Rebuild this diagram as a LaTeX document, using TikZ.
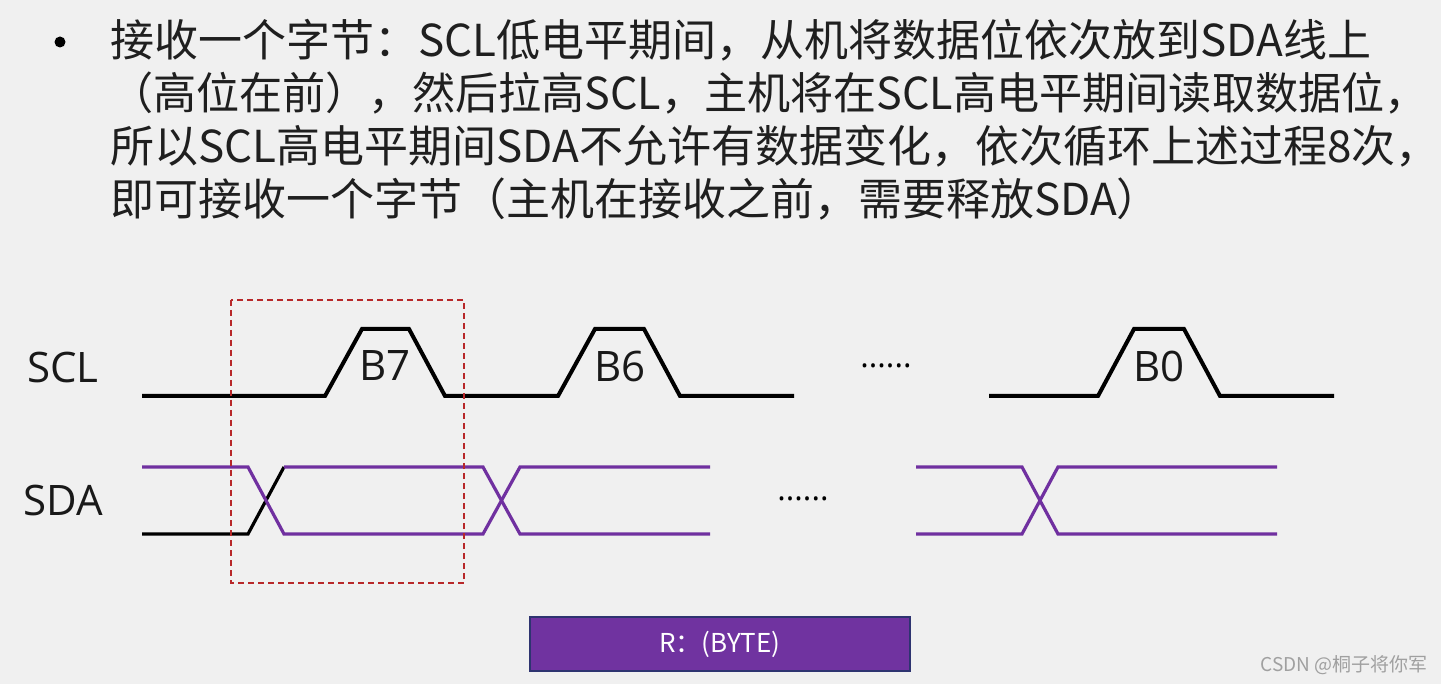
\documentclass[tikz,border=0pt]{standalone}
\usepackage{fontspec}
\usepackage{graphicx}
\setmainfont{Open Sans}
\newfontfamily\cjk{Noto Sans CJK SC}
\definecolor{bgc}{HTML}{F0F0F0}
\definecolor{sdap}{HTML}{7030A0}
\definecolor{boxp}{HTML}{7033A0}
\definecolor{boxb}{HTML}{2E3470}
\definecolor{redd}{HTML}{B8282A}
\definecolor{wmark}{HTML}{A0A0A0}
\begin{document}
\begin{tikzpicture}[x=1pt,y=-1pt,
  sclw/.style={line width=4pt, black, line join=miter},
  sdaw/.style={line width=3.2pt, sdap, line join=miter},
  sdab/.style={line width=3.2pt, black, line join=miter},
  txtline/.style={anchor=base west, inner sep=0pt, font=\cjk\fontsize{44}{53}\selectfont, text=black!88},
  siglab/.style={inner sep=0pt, font=\fontsize{42}{50}\selectfont, text=black!90},
  bitlab/.style={inner sep=0pt, font=\fontsize{42}{50}\selectfont, text=black!90},
  dotsl/.style={inner sep=0pt, font=\fontsize{32}{40}\selectfont},
  selbox/.style={draw=redd, dashed, line width=1.3pt, dash pattern=on 6pt off 4pt},
  bytebox/.style={draw=boxb, fill=boxp, line width=1.5pt, minimum width=380pt, minimum height=54pt, inner sep=0pt, text=white, font=\cjk\fontsize{26}{30}\selectfont}
]
\fill[bgc] (0,0) rectangle (1441,684);
\useasboundingbox (0,0) rectangle (1441,684);

% bullet and text
\fill[black] (60,42) circle (5.5);
\node[txtline] (l1) at (110,57) {接收一个字节：SCL低电平期间，从机将数据位依次放到SDA线上};
\node[txtline] (l2) at (110,110) {\scalebox{0.98}[1]{（高位在前），然后拉高SCL，主机将在SCL高电平期间读取数据位，}};
\node[txtline] (l3) at (110,163) {所以SCL高电平期间SDA不允许有数据变化，依次循环上述过程8次，};
\node[txtline] (l4) at (110,216) {即可接收一个字节（主机在接收之前，需要释放SDA）};

% signal labels
\node[siglab] (scl) at (63,367) {SCL};
\node[siglab] (sda) at (63,500) {SDA};

% SCL waveform
\draw[sclw] (142,396) -- (325,396) -- (362,329) -- (409,329) -- (445,396) -- (558,396) -- (595,329) -- (644,329) -- (680,396) -- (794,396);
\draw[sclw] (989,396) -- (1098,396) -- (1134,329) -- (1184,329) -- (1220,396) -- (1334,396);
\node[bitlab] (b7) at (385,366) {B7};
\node[bitlab] (b6) at (620,366) {B6};
\node[bitlab] (b0) at (1159,366) {B0};
\node[dotsl] (d1) at (886,366) {......};

% SDA waveform
\draw[sdab] (142,534) -- (248,534) -- (284,467);
\draw[sdaw] (142,467) -- (248,467) -- (284,534) -- (483,534) -- (520,467) -- (710,467);
\draw[sdaw] (284,467) -- (483,467) -- (520,534) -- (710,534);
\draw[sdaw] (916,467) -- (1022,467) -- (1058,534) -- (1277,534);
\draw[sdaw] (916,534) -- (1022,534) -- (1058,467) -- (1277,467);
\node[dotsl] (d2) at (803,499) {......};

% selection box
\draw[selbox] (231,300) rectangle (464,583);

% byte box
\node[bytebox] (rb) at (720,644) {R：(BYTE)};

% watermark
\node[anchor=east, inner sep=0pt, text=wmark, font=\cjk\fontsize{19}{22}\selectfont] (wm) at (1428,665) {CSDN @桐子将你军};
\end{tikzpicture}
\end{document}
